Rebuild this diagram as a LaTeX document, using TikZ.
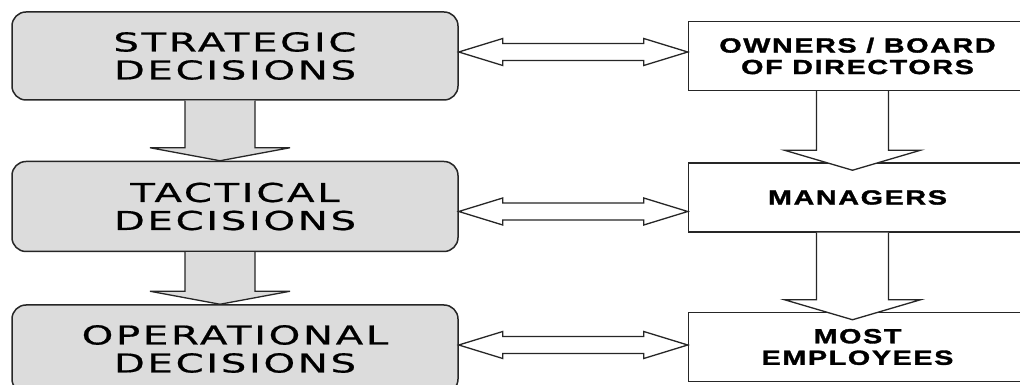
\documentclass[tikz,border=0pt]{standalone}
\usepackage{fontspec}
\usepackage{xcolor}
\usepackage{tikz}
\usetikzlibrary{positioning,calc}
\newfontfamily\levelfont[FakeStretch=1.55,LetterSpace=10,FakeBold=0.6]{DejaVu Sans}
\newfontfamily\groupfont[UprightFont=* Bold,FakeStretch=1.4,LetterSpace=8,FakeBold=1.6]{Liberation Sans}
\definecolor{boxgrey}{RGB}{220,220,220}

\begin{document}
\begin{tikzpicture}[x=1pt, y=1pt, line width=1.5pt,
  level/.style={draw=black!85, fill=boxgrey, rounded corners=14pt, align=center,
    minimum width=446pt, inner sep=0pt, font=\levelfont\fontsize{26}{28}\selectfont},
  group/.style={draw=black!85, fill=white, align=center, minimum width=338pt,
    minimum height=69pt, inner sep=0pt, font=\groupfont\fontsize{20.5}{21.5}\selectfont},
  fat/.style={draw=black!85, line width=1.3pt, fill=#1}]
\useasboundingbox (0,0) rectangle (1020,385);
% decision levels
\node[level, minimum height=88pt] (strat) at (235,329) {STRATEGIC\\DECISIONS};
\node[level, minimum height=90pt, below=60pt of strat] (tact) {TACTICAL\\DECISIONS};
\node[level, minimum height=88pt, below=52pt of tact] (oper) {OPERATIONAL\\DECISIONS};
% who takes them
\node[group, right=229pt of strat] (own) {OWNERS / BOARD\\OF DIRECTORS};
\node[group, below=71pt of own] (mgr) {MANAGERS};
\node[group, below=79pt of mgr] (emp) {MOST\\EMPLOYEES};
% block arrows down
\foreach \a/\b in {strat/tact, tact/oper}
  \filldraw[fat=boxgrey] ($(\a.south)+(-50,0)$) -- ($(\b.north)+(-50,13)$)
    -- ($(\b.north)+(-85,13)$) -- ($(\b.north)+(-15,0)$) -- ($(\b.north)+(55,13)$)
    -- ($(\b.north)+(20,13)$) -- ($(\a.south)+(20,0)$);
\foreach \a/\b in {own/mgr, mgr/emp}
  \filldraw[fat=white] ($(\a.south)+(-41,0)$) -- ($(\b.north)+(-41,12)$)
    -- ($(\b.north)+(-73,12)$) -- ($(\b.north)+(-5,-8)$) -- ($(\b.north)+(63,12)$)
    -- ($(\b.north)+(31,12)$) -- ($(\a.south)+(31,0)$);
% two-way arrows
\foreach \a/\b/\d in {strat/own/4, tact/mgr/-5, oper/emp/4}
  \filldraw[fat=white] let \p1=($(\a.east)+(0,\d)$), \p2=(\b.west) in
    (\x1,\y1) -- (\x1+44,\y1+13.5) -- (\x1+44,\y1+8.5) -- (\x2-44,\y1+8.5)
    -- (\x2-44,\y1+13.5) -- (\x2,\y1) -- (\x2-44,\y1-13.5) -- (\x2-44,\y1-8.5)
    -- (\x1+44,\y1-8.5) -- (\x1+44,\y1-13.5) -- cycle;
\end{tikzpicture}
\end{document}
